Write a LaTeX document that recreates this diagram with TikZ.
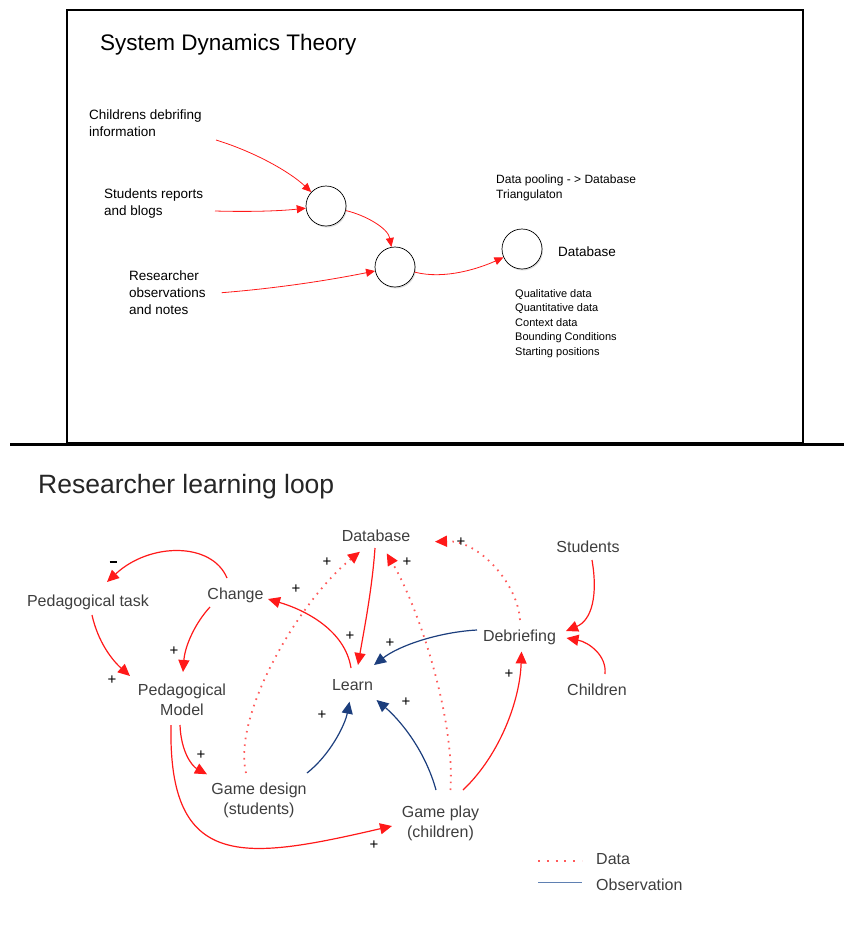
\documentclass[tikz,border=0pt]{standalone}
\usepackage{fontspec}
\setmainfont{Liberation Sans}
\usetikzlibrary{arrows.meta,shadows}
\definecolor{ared}{RGB}{255,25,25}
\definecolor{dred}{RGB}{255,90,90}
\definecolor{oblue}{RGB}{28,62,125}
\definecolor{lblue}{RGB}{95,128,178}
\definecolor{tgray}{RGB}{62,62,62}
\tikzset{
  toparr/.style={draw=ared, line width=0.8pt, -{Triangle[length=9pt,width=8pt]}},
  redarr/.style={draw=ared, line width=1.2pt, -{Triangle[length=12pt,width=11pt]}},
  bluearr/.style={draw=oblue, line width=1.2pt, -{Triangle[length=12pt,width=11pt]}},
  dotarr/.style={draw=dred, line width=1.8pt, dash pattern=on 1.6pt off 5.2pt, -{Triangle[length=12pt,width=11pt,color=ared]}},
  pool/.style={circle, draw, line width=0.7pt, minimum size=40pt, inner sep=0pt, fill=white, drop shadow={shadow xshift=1pt, shadow yshift=-1.5pt, opacity=0.25}},
  ttxt/.style={font=\fontsize{13.5}{17}\selectfont, align=left, inner sep=0pt, anchor=base west},
  lbl/.style={font=\fontsize{16}{19.5}\selectfont, text=tgray, inner sep=0pt, align=center},
  pls/.style={font=\fontsize{15}{15}\selectfont, inner sep=0pt}
}
\begin{document}
\begin{tikzpicture}[x=1pt,y=1pt]
\useasboundingbox (0,0) rectangle (844,-945);
% ---------- top panel ----------
\draw[line width=2pt] (67,-10) rectangle (803,-443);
\draw[line width=3pt] (10,-444) -- (844,-444);
\node[anchor=base west, inner sep=0pt, font=\fontsize{22.5}{27}\selectfont] (title) at (100,-50) {System Dynamics Theory};
\node[ttxt] (cdi) at (89,-136) {Childrens debrifing\\information};
\node[ttxt] (srb) at (104,-215.5) {Students reports\\and blogs};
\node[ttxt] (ron) at (129,-314) {Researcher\\observations\\and notes};
\node[ttxt, font=\fontsize{12}{15.5}\selectfont] (pool) at (496,-198.8) {Data pooling - {>} Database\\Triangulaton};
\node[ttxt] (dbt) at (558,-256) {Database};
\node[ttxt, font=\fontsize{11}{14.4}\selectfont] (list) at (515,-355) {Qualitative data\\Quantitative data\\Context data\\Bounding Conditions\\Starting positions};
\node[pool] (c1) at (326,-206) {};
\node[pool] (c2) at (395,-267) {};
\node[pool] (c3) at (522,-249) {};
\coordinate (s1) at (216,-140);
\coordinate (s2) at (215,-211);
\coordinate (s3) at (221.7,-292.7);
\draw[toparr] (s1) .. controls (255,-152) and (290,-172) .. (c1);
\draw[toparr] (s2) .. controls (250,-212) and (280,-211) .. (c1);
\draw[toparr] (c1) .. controls (365,-215) and (388,-228) .. (c2);
\draw[toparr] (s3) .. controls (280,-288) and (330,-280) .. (c2);
\draw[toparr] (c2) .. controls (445,-280) and (480,-268) .. (c3);
% ---------- bottom panel ----------
\node[anchor=base west, inner sep=0pt, font=\fontsize{26.5}{30}\selectfont, text=black!85] (rll) at (38,-493) {Researcher learning loop};
\node[lbl, anchor=base] (db) at (376,-541) {Database};
\node[lbl, anchor=base] (change) at (235.5,-599) {Change};
\node[lbl, anchor=base] (learn) at (352.5,-690) {Learn};
\node[lbl, anchor=base] (debrief) at (519.5,-641.5) {Debriefing};
\node[lbl, anchor=base] (students) at (588,-552) {Students};
\node[lbl, anchor=base] (children) at (597,-695) {Children};
\node[lbl, anchor=base] (ptask) at (88,-606) {Pedagogical task};
\node[lbl, anchor=north] (pmodel) at (182,-684) {Pedagogical\\Model};
\node[lbl, anchor=north] (gdesign) at (259,-783) {Game design\\(students)};
\node[lbl, anchor=north] (gplay) at (440.5,-806) {Game play\\(children)};
% red causal links
\draw[redarr] ([shift={(-8.5,21)}]change.base) .. controls (212,-542) and (150,-542) .. ([shift={(19,24)}]ptask.base);
\draw[redarr] ([shift={(4,-9)}]ptask.base) .. controls (98,-642) and (112,-660) .. ([shift={(-52,8)}]pmodel.north);
\draw[redarr] ([shift={(-25.5,-8)}]change.base) .. controls (196,-622) and (185,-645) .. ([shift={(1,12)}]pmodel.north);
\draw[redarr] ([shift={(-1.5,22)}]learn.base) .. controls (345,-630) and (305,-610) .. ([shift={(32.5,0)}]change.base);
\draw[redarr] ([shift={(-1,-7)}]db.base) .. controls (372,-590) and (364,-630) .. ([shift={(5.5,25)}]learn.base);
\draw[redarr] ([shift={(4,-8)}]students.base) .. controls (598,-595) and (592,-620) .. ([shift={(46.5,10.5)}]debrief.base);
\draw[redarr] ([shift={(8,21)}]children.base) .. controls (607,-655) and (588,-642) .. ([shift={(47,3.5)}]debrief.base);
\draw[redarr] ([shift={(22.5,16)}]gplay.north) .. controls (500,-755) and (520,-700) .. ([shift={(2,-10)}]debrief.base);
\draw[redarr] ([shift={(-2,-41)}]pmodel.north) .. controls (181,-752) and (192,-766) .. ([shift={(-52,8.7)}]gdesign.north);
\draw[redarr] ([shift={(-11,-41)}]pmodel.north) .. controls (168,-872) and (245,-860) .. ([shift={(-48.5,-20)}]gplay.north);
% observation links
\draw[bluearr] ([shift={(-42.5,11.5)}]debrief.base) .. controls (440,-632) and (400,-645) .. ([shift={(21.5,25)}]learn.base);
\draw[bluearr] ([shift={(48,10)}]gdesign.north) .. controls (330,-755) and (345,-725) .. ([shift={(-3,-11.7)}]learn.base);
\draw[bluearr] ([shift={(-4.5,16)}]gplay.north) .. controls (425,-750) and (400,-720) .. ([shift={(24,-10)}]learn.base);
% data links
\draw[dotarr] ([shift={(-13,10)}]gdesign.north) .. controls (232,-715) and (300,-600) .. ([shift={(-16,-10.7)}]db.base);
\draw[dotarr] ([shift={(10,16)}]gplay.north) .. controls (455,-720) and (420,-610) .. ([shift={(10.7,-12.3)}]db.base);
\draw[dotarr] ([shift={(0.5,21.5)}]debrief.base) .. controls (518,-585) and (480,-540) .. ([shift={(59,-0.7)}]db.base);
% polarity signs
\node[inner sep=0pt] (m1) at (113,-562) {\rule{7pt}{2.6pt}};
\node[pls] (p1) at (112,-680) {+};
\node[pls] (p2) at (174,-651) {+};
\node[pls] (p3) at (296,-589) {+};
\node[pls] (p4) at (327,-562) {+};
\node[pls] (p5) at (350,-636) {+};
\node[pls] (p6) at (390,-643) {+};
\node[pls] (p7) at (407,-562) {+};
\node[pls] (p8) at (461,-542) {+};
\node[pls] (p9) at (509,-674) {+};
\node[pls] (p10) at (201,-755) {+};
\node[pls] (p11) at (322,-715) {+};
\node[pls] (p12) at (406,-702) {+};
\node[pls] (p13) at (374,-845) {+};
% legend
\coordinate (ld1) at (538,-860.7);
\coordinate (ld2) at (582,-860.7);
\coordinate (lb1) at (538,-882.5);
\coordinate (lb2) at (582,-882.5);
\draw[draw=dred, line width=2pt, dash pattern=on 2pt off 6.8pt] (ld1) -- (ld2);
\draw[draw=lblue, line width=1.6pt] (lb1) -- (lb2);
\node[lbl, anchor=base west] (ldata) at (596,-864.3) {Data};
\node[lbl, anchor=base west] (lobs) at (596,-890) {Observation};
\end{tikzpicture}
\end{document}
